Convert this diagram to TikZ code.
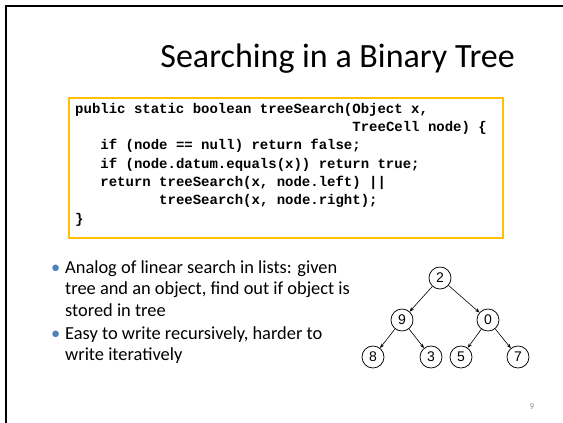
\documentclass[tikz,border=0pt]{standalone}
\usepackage{fontspec}
\setmainfont{Carlito}
\newfontfamily\codefont{Liberation Mono}
\newfontfamily\arialfont{Liberation Sans}
\usetikzlibrary{arrows.meta}
\definecolor{codeframe}{RGB}{255,192,0}
\definecolor{bulletblue}{RGB}{79,129,189}
\definecolor{pagegray}{RGB}{140,140,140}
\tikzset{
  codeline/.style={anchor=base west, inner sep=0pt, font=\codefont\bfseries\fontsize{14}{16}\selectfont},
  bodyline/.style={anchor=base west, inner sep=0pt, font=\fontsize{18.4}{22}\selectfont},
  bulletmark/.style={anchor=base west, inner sep=0pt, text=bulletblue, font=\fontsize{18.4}{22}\selectfont},
  treenode/.style={circle, draw, line width=0.75pt, minimum size=22pt, inner sep=0pt, font=\arialfont\fontsize{14}{16}\selectfont},
  treeedge/.style={line width=0.6pt, -{Stealth[length=4.5pt,width=3.5pt]}}
}
\begin{document}
\begin{tikzpicture}[x=1pt,y=-1pt]
\useasboundingbox (0,0) rectangle (563,423);

% slide frame: top and left rules
\draw[line width=2.5pt] (6,423) -- (6,6) -- (563,6);

% title
\node[anchor=base east, inner sep=0pt, font=\fontsize{34}{40}\selectfont] (title) at (515,67) {Searching in a Binary Tree};

% code listing
\draw[codeframe, line width=2.5pt] (69,98) rectangle (503,238);
\def\cw{8.4}
\node[codeline] (c1) at (75,113.2) {public static boolean treeSearch(Object x,};
\node[codeline] (c2) at (75+33*\cw,131.5) {TreeCell node) \{};
\node[codeline] (c3) at (75+3*\cw,149.8) {if (node == null) return false;};
\node[codeline] (c4) at (75+3*\cw,168.1) {if (node.datum.equals(x)) return true;};
\node[codeline] (c5) at (75+3*\cw,186.4) {return treeSearch(x, node.left) ||};
\node[codeline] (c6) at (75+10*\cw,204.7) {treeSearch(x, node.right);};
\node[codeline] (c7) at (75,223) {\}};

% bullet points
\node[bulletmark] (b1) at (51,273) {•};
\node[bodyline] (t1) at (65,273) {Analog of linear search in lists: given};
\node[bodyline] (t2) at (65,294.7) {tree and an object, find out if object is};
\node[bodyline] (t3) at (65,316.4) {stored in tree};
\node[bulletmark] (b2) at (51,339) {•};
\node[bodyline] (t4) at (65,339) {Easy to write recursively, harder to};
\node[bodyline] (t5) at (65,360.7) {write iteratively};

% binary tree
\node[treenode] (n2) at (440,278) {2};
\node[treenode] (n9) at (402,320) {9};
\node[treenode] (n0) at (488,320) {0};
\node[treenode] (n8) at (373,357) {8};
\node[treenode] (n3) at (431,357) {3};
\node[treenode] (n5) at (461,357) {5};
\node[treenode] (n7) at (518,357) {7};
\draw[treeedge] (n2) -- (n9);
\draw[treeedge] (n2) -- (n0);
\draw[treeedge] (n9) -- (n8);
\draw[treeedge] (n9) -- (n3);
\draw[treeedge] (n0) -- (n5);
\draw[treeedge] (n0) -- (n7);

% page number
\node[inner sep=0pt, text=pagegray, font=\fontsize{9}{10}\selectfont] (page) at (532,407) {9};
\end{tikzpicture}
\end{document}
